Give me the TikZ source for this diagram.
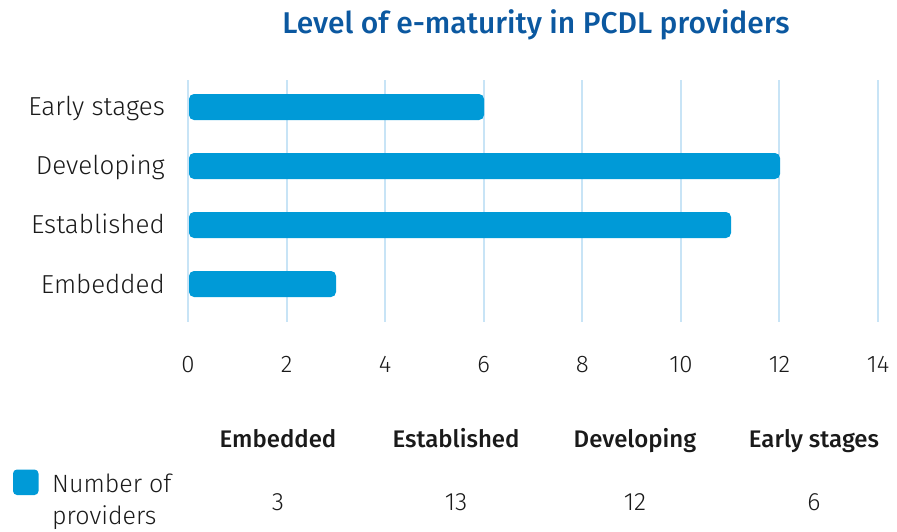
\documentclass[tikz,border=0pt]{standalone}
\usepackage{fontspec}
\setmainfont{Fira Sans}
\newfontfamily\lightfont{Fira Sans Light}
\newfontfamily\medfont{Fira Sans Medium}
\definecolor{barblue}{HTML}{009AD7}
\definecolor{gridblue}{HTML}{C8E4F6}
\definecolor{titleblue}{HTML}{0B58A0}
\definecolor{txt}{HTML}{1A1A1A}
\tikzset{
  bar/.style={fill=barblue, draw=none, rounded corners=5pt},
  gridline/.style={draw=gridblue, line width=2pt},
  cat/.style={anchor=base east, font=\lightfont\fontsize{26}{30}\selectfont, text=txt, inner sep=0pt},
  tick/.style={anchor=base, font=\lightfont\fontsize{24}{28}\selectfont, text=txt, inner sep=0pt},
  head/.style={anchor=base, font=\medfont\fontsize{24}{28}\selectfont, text=txt, inner sep=0pt},
  val/.style={anchor=base, font=\lightfont\fontsize{25}{28}\selectfont, text=txt, inner sep=0pt},
  legtext/.style={anchor=base west, font=\lightfont\fontsize{25}{28}\selectfont, text=txt, inner sep=0pt},
}
\begin{document}
\begin{tikzpicture}[x=1pt,y=-1pt]
\useasboundingbox (0,0) rectangle (897,531);
\node[anchor=base, font=\medfont\fontsize{30}{34}\selectfont, text=titleblue, inner sep=0pt] (title) at (536,33) {Level of e-maturity in PCDL providers};
% grid
\foreach \v [count=\i] in {0,2,...,14} {
  \draw[gridline] (188+49.29*\v,80) -- (188+49.29*\v,322);
  \node[tick] (t\i) at (188+49.29*\v,372) {\v};
}
% bars
\fill[bar] (189,94) rectangle (484,120);
\fill[bar] (189,153) rectangle (780,179);
\fill[bar] (189,212) rectangle (731,238);
\fill[bar] (189,271) rectangle (336,297);
\node[cat] (c1) at (165,115.5) {Early stages};
\node[cat] (c2) at (165,174.5) {Developing};
\node[cat] (c3) at (165,233.5) {Established};
\node[cat] (c4) at (165,293) {Embedded};
% table
\node[head] (h1) at (278,447) {Embedded};
\node[head] (h2) at (456,447) {Established};
\node[head] (h3) at (635,447) {Developing};
\node[head] (h4) at (814,447) {Early stages};
\node[val] (v1) at (278,510) {3};
\node[val] (v2) at (456,510) {13};
\node[val] (v3) at (635,510) {12};
\node[val] (v4) at (814,510) {6};
\fill[bar, rounded corners=4pt] (13,469.5) rectangle (38.5,495);
\node[legtext] (leg1) at (52,492.5) {Number of};
\node[legtext] (leg2) at (52,524) {providers};
\end{tikzpicture}
\end{document}
